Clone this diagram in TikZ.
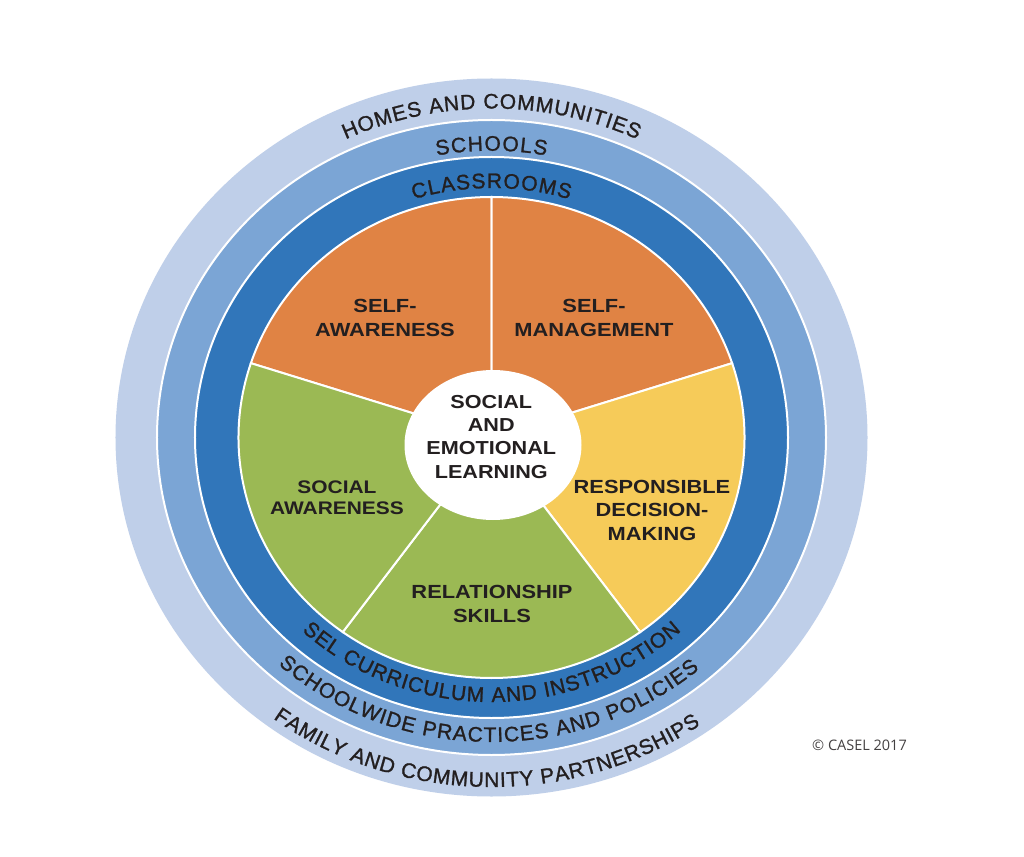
\documentclass[tikz,border=0pt]{standalone}
\usepackage{fontspec}
\setmainfont{Liberation Sans}
\newfontfamily\labelfont[FakeStretch=1.15]{Liberation Sans}
\newfontfamily\ringfont[FakeBold=1.2]{Liberation Sans}
\newfontfamily\copyfont{Open Sans}
\usetikzlibrary{decorations.text}
\definecolor{ringlight}{HTML}{BFCFE9}
\definecolor{ringmid}{HTML}{7BA5D5}
\definecolor{ringdark}{HTML}{3176BA}
\definecolor{sliceorange}{HTML}{E08344}
\definecolor{sliceyellow}{HTML}{F6CB59}
\definecolor{slicegreen}{HTML}{9BB954}
\definecolor{inktext}{HTML}{231F20}
\tikzset{
  slicebox/.style={draw=white, line width=2pt},
  ringsep/.style={draw=white, line width=2pt},
  pie/.style={x radius=253pt, y radius=240.5pt},
  slicelabel/.style={align=center, inner sep=0pt, text=inktext,
    font=\labelfont\bfseries\fontsize{19}{23.5}\selectfont},
  centrelabel/.style={align=center, inner sep=0pt, text=inktext,
    font=\labelfont\bfseries\fontsize{18.8}{23.3}\selectfont},
  ringtext/.style={decorate, decoration={text along path,
    text color=inktext, text align={fit to path}, text={#1}}},
}
\begin{document}
\begin{tikzpicture}[x=1pt,y=1pt]
\fill[white] (-491.5,-418.5) rectangle (532.5,437.5);
\useasboundingbox (-491.5,-418.5) rectangle (532.5,437.5);
\coordinate (c) at (0,0);
% rings
\fill[ringlight] (c) ellipse[x radius=376pt, y radius=359pt];
\filldraw[ringsep, fill=ringmid] (c) ellipse[x radius=334.5pt, y radius=317.5pt];
\filldraw[ringsep, fill=ringdark] (c) ellipse[x radius=296.5pt, y radius=280.5pt];
% slices
\filldraw[slicebox, fill=sliceorange] (c) -- (90:253pt and 240.5pt) arc[pie, start angle=90, end angle=162] -- cycle;
\filldraw[slicebox, fill=sliceorange] (c) -- (18:253pt and 240.5pt) arc[pie, start angle=18, end angle=90] -- cycle;
\filldraw[slicebox, fill=sliceyellow] (c) -- (-54:253pt and 240.5pt) arc[pie, start angle=-54, end angle=18] -- cycle;
\filldraw[slicebox, fill=slicegreen] (c) -- (234:253pt and 240.5pt) arc[pie, start angle=234, end angle=306] -- cycle;
\filldraw[slicebox, fill=slicegreen] (c) -- (162:253pt and 240.5pt) arc[pie, start angle=162, end angle=234] -- cycle;
% centre
\fill[white] (1.5,-7.5) ellipse[x radius=88.5pt, y radius=75pt];
\node[centrelabel] (sel) at (-0.2,0.8) {SOCIAL\\AND\\EMOTIONAL\\LEARNING};
% slice labels
\node[slicelabel] (sa) at (-106.5,119.5) {SELF-\\AWARENESS};
\node[slicelabel] (sm) at (102.5,119.5) {SELF-\\MANAGEMENT};
\node[slicelabel, font=\labelfont\bfseries\fontsize{18.2}{21.5}\selectfont] (soc) at (-154.5,-60) {SOCIAL\\AWARENESS};
\node[slicelabel] (rdm) at (160.5,-72.5) {RESPONSIBLE\\DECISION-\\MAKING};
\node[slicelabel] (rs) at (0.5,-166.5) {RELATIONSHIP\\SKILLS};
% ring texts, top
\path[ringtext={|\ringfont\fontsize{21}{21}\selectfont|HOMES AND COMMUNITIES}] (115:345pt and 329pt) arc[start angle=115, end angle=65, x radius=345pt, y radius=329pt];
\path[ringtext={|\ringfont\fontsize{21}{21}\selectfont|SCHOOLS}] (100.5:301pt and 286.8pt) arc[start angle=100.5, end angle=79.5, x radius=301pt, y radius=286.8pt];
\path[ringtext={|\ringfont\fontsize{21}{21}\selectfont|CLASSROOMS}] (107.3:262pt and 249.5pt) arc[start angle=107.3, end angle=72.7, x radius=262pt, y radius=249.5pt];
% ring texts, bottom
\path[ringtext={|\ringfont\fontsize{21}{21}\selectfont|SEL CURRICULUM AND INSTRUCTION}] (227:278pt and 264.5pt) arc[start angle=227, end angle=313, x radius=278pt, y radius=264.5pt];
\path[ringtext={|\ringfont\fontsize{21}{21}\selectfont|SCHOOLWIDE PRACTICES AND POLICIES}] (228.2:320pt and 304.5pt) arc[start angle=228.2, end angle=310.5, x radius=320pt, y radius=304.5pt];
\path[ringtext={|\ringfont\fontsize{21}{21}\selectfont|FAMILY AND COMMUNITY PARTNERSHIPS}] (233.5:367pt and 349.5pt) arc[start angle=233.5, end angle=304.7, x radius=367pt, y radius=349.5pt];
% copyright
\node[inner sep=0pt, text=inktext!85, font=\copyfont\fontsize{14.5}{14.5}\selectfont] (copy) at (368,-307.5) {© CASEL 2017};
\end{tikzpicture}
\end{document}
